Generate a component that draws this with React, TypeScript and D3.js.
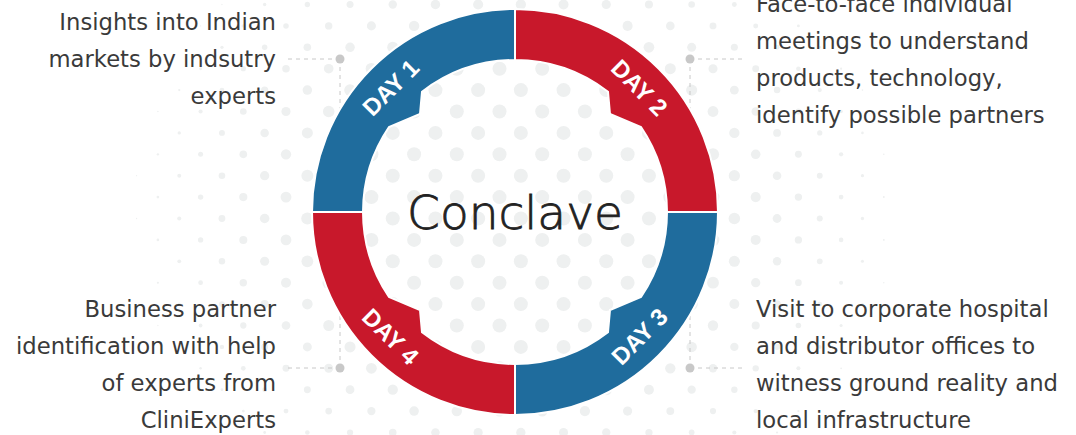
import { useRef, useEffect } from "react";
import * as d3 from "d3";

const days = ["DAY 1", "DAY 2", "DAY 3", "DAY 4"];
const dayWeights = [1, 1, 1, 1];
const dayColors = ["#1f6c9d", "#c8182b", "#1f6c9d", "#c8182b"];
const descriptions = [
  ["Insights into Indian", "markets by indsutry", "experts"],
  ["Face-to-face individual", "meetings to understand", "products, technology,", "identify possible partners"],
  ["Visit to corporate hospital", "and distributor offices to", "witness ground reality and", "local infrastructure"],
  ["Business partner", "identification with help", "of experts from", "CliniExperts"],
];
const centerTitle = "Conclave";

const W = 1076;
const H = 435;

const App = () => {
  const svgRef = useRef<SVGSVGElement | null>(null);

  useEffect(() => {
    if (!svgRef.current) return;
    const svg = d3.select(svgRef.current);
    svg.selectAll("*").remove();

    const cx = 515;
    const cy = 212;
    const R = 203;
    const r = 152;

    // halftone dot background
    const dotSize = d3.scaleLinear().domain([180, 400]).range([7, 0]).clamp(true);
    const dots: { x: number; y: number; s: number }[] = [];
    d3.range(-8, 14).forEach((j) => {
      const y = 154.3 + j * 21.4;
      const off = j % 2 === 0 ? 0 : -21.35;
      d3.range(-6, 20).forEach((k) => {
        const x = 243.3 + off + k * 42.7;
        const d = Math.hypot(x - cx, (y - cy) * 1.15);
        const s = dotSize(d);
        if (s > 0.6) dots.push({ x, y, s });
      });
    });
    svg
      .append("g")
      .selectAll("circle")
      .data(dots)
      .join("circle")
      .attr("cx", (d) => d.x)
      .attr("cy", (d) => d.y)
      .attr("r", (d) => d.s)
      .attr("fill", "#eef0f0");

    const leaders = svg.append("g");
    const g = svg.append("g");

    const pie = d3
      .pie<number>()
      .sort(null)
      .startAngle(-Math.PI / 2)
      .endAngle((3 * Math.PI) / 2);
    const arcs = pie(dayWeights);

    arcs.forEach((a, i) => {
      // d3 angles -> screen math angles
      const s = a.startAngle - Math.PI / 2;
      const e = a.endAngle - Math.PI / 2;
      const m = (s + e) / 2;
      const sx = Math.sign(Math.cos(m));
      const sy = Math.sign(Math.sin(m));
      const norm = (p: number) => {
        let q = p;
        while (q < s) q += 2 * Math.PI;
        while (q > s + 2 * Math.PI) q -= 2 * Math.PI;
        return q;
      };
      const pA = norm(Math.atan2(sy * Math.sqrt(r * r - 93 * 93), sx * 93));
      const pB = norm(Math.atan2(sy * 85, sx * Math.sqrt(r * r - 85 * 85)));
      const lo = Math.min(pA, pB);
      const hi = Math.max(pA, pB);
      const p = d3.path();
      p.moveTo(cx + R * Math.cos(s), cy + R * Math.sin(s));
      p.arc(cx, cy, R, s, e, false);
      p.lineTo(cx + r * Math.cos(e), cy + r * Math.sin(e));
      p.arc(cx, cy, r, e, hi, true);
      p.lineTo(cx + sx * 95, cy + sy * 98);
      p.lineTo(cx + r * Math.cos(lo), cy + r * Math.sin(lo));
      p.arc(cx, cy, r, lo, s, true);
      p.closePath();

      g.append("path")
        .attr("d", p.toString())
        .attr("fill", dayColors[i])
        .attr("stroke", "#fff")
        .attr("stroke-width", 2);

      const deg = (m * 180) / Math.PI + 90;
      const rot = sy > 0 ? deg - 180 : deg;
      const tr = 176;
      g.append("text")
        .attr(
          "transform",
          `translate(${cx + tr * Math.cos(m)},${cy + tr * Math.sin(m)}) rotate(${rot})`
        )
        .attr("text-anchor", "middle")
        .attr("dominant-baseline", "central")
        .attr("font-family", "'Liberation Sans', Arial, sans-serif")
        .attr("font-weight", "bold")
        .attr("font-size", 24)
        .attr("fill", "#fff")
        .text(days[i]);

      // leader
      const lx = cx + sx * 175;
      const ly = cy + (sy < 0 ? -153 : 156);
      const ringY = cy + sy * Math.sqrt(R * R - 175 * 175);
      leaders
        .append("line")
        .attr("x1", lx)
        .attr("x2", lx + sx * 52)
        .attr("y1", ly)
        .attr("y2", ly)
        .attr("stroke", "#c8c8c8")
        .attr("stroke-dasharray", "4 4");
      leaders
        .append("line")
        .attr("x1", lx)
        .attr("x2", lx)
        .attr("y1", ly)
        .attr("y2", ringY)
        .attr("stroke", "#c8c8c8")
        .attr("stroke-dasharray", "4 4");
      leaders.append("circle").attr("cx", lx).attr("cy", ly).attr("r", 4.5).attr("fill", "#c8c8c8");

      // description
      const lines = descriptions[i];
      const tx = sx < 0 ? cx - 239 : cx + 241;
      const tcy = sy < 0 ? 59 : 364;
      const lh = 37;
      const txt = svg
        .append("text")
        .attr("font-family", "'DejaVu Sans', sans-serif")
        .attr("font-size", 22.7)
        .attr("fill", "#3a3a3a")
        .attr("text-anchor", sx < 0 ? "end" : "start");
      lines.forEach((line, li) => {
        txt
          .append("tspan")
          .attr("x", tx)
          .attr("y", tcy + (li - (lines.length - 1) / 2) * lh)
          .attr("dominant-baseline", "central")
          .text(line);
      });
    });

    svg
      .append("text")
      .attr("x", cx)
      .attr("y", cy)
      .attr("text-anchor", "middle")
      .attr("dominant-baseline", "central")
      .attr("font-family", "'DejaVu Sans', sans-serif")
      .attr("font-weight", 200)
      .attr("font-size", 47)
      .attr("fill", "#222")
      .attr("stroke", "#222")
      .attr("stroke-width", 0.8)
      .text(centerTitle);
  }, []);

  return (
    <svg
      ref={svgRef}
      width={W}
      height={H}
      style={{ position: "absolute", left: 0, top: 0, background: "#fff" }}
    ></svg>
  );
};

export default App;
